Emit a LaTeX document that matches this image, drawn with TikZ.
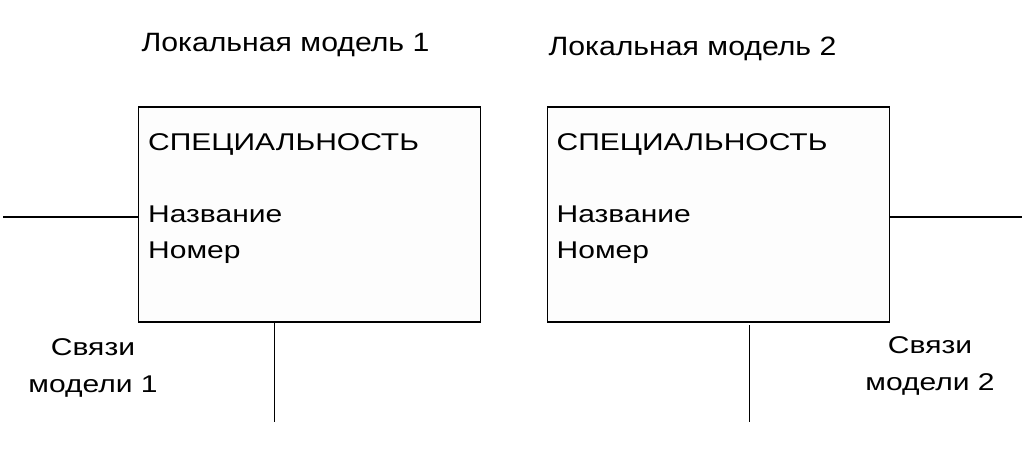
\documentclass[tikz,border=0pt]{standalone}
\usepackage{fontspec}
\setmainfont{Liberation Sans}
\newfontfamily\bodyfont[FakeStretch=1.24]{Liberation Sans}
\newfontfamily\titlefont[FakeStretch=1.14]{Liberation Sans}
\begin{document}
\begin{tikzpicture}[x=1pt,y=-1pt,
  box/.style={draw=black,line width=1.5pt,fill=white!99.3!black,minimum width=342pt,minimum height=215pt,inner sep=0pt,anchor=north west},
  conn/.style={draw=black,line width=1.5pt},
  body/.style={font=\bodyfont\fontsize{24.2}{24}\selectfont,inner sep=0pt,anchor=base west},
  title/.style={font=\titlefont\fontsize{26.5}{27}\selectfont,inner sep=0pt,anchor=base},
  lab/.style={font=\bodyfont\fontsize{24.2}{24}\selectfont,inner sep=0pt,anchor=base}]
\useasboundingbox (0,0) rectangle (1024,455);
\fill[white] (0,0) rectangle (1024,455);
% titles
\node[title] (t1) at (285.5,51.7) {Локальная модель 1};
\node[title] (t2) at (692.5,55) {Локальная модель 2};
% boxes
\node[box] (box1) at (137.5,106) {};
\node[box] (box2) at (546.5,106) {};
% box texts
\node[body] (s1) at (148,150) {СПЕЦИАЛЬНОСТЬ};
\node[body] (n1) at (148,222.7) {Название};
\node[body] (m1) at (148,258.3) {Номер};
\node[body] (s2) at (556.5,150) {СПЕЦИАЛЬНОСТЬ};
\node[body] (n2) at (556.5,222.7) {Название};
\node[body] (m2) at (556.5,258.3) {Номер};
% connectors
\coordinate (l1) at (3,217);
\coordinate (r2) at (1022,217);
\coordinate (b1) at (274.5,421.5);
\coordinate (b2) at (749.5,421.5);
\draw[conn] (l1) -- (l1 -| box1.west);
\draw[conn] (r2 -| box2.east) -- (r2);
\draw[conn] (b1 |- box1.south) -- (b1);
\draw[conn] ([yshift=-2.5pt]b2 |- box2.south) -- (b2);
% link labels
\node[lab] (c1a) at (93,355) {Связи};
\node[lab] (c1b) at (93,392) {модели 1};
\node[lab] (c2a) at (930,353.3) {Связи};
\node[lab] (c2b) at (930,390) {модели 2};
\end{tikzpicture}
\end{document}
